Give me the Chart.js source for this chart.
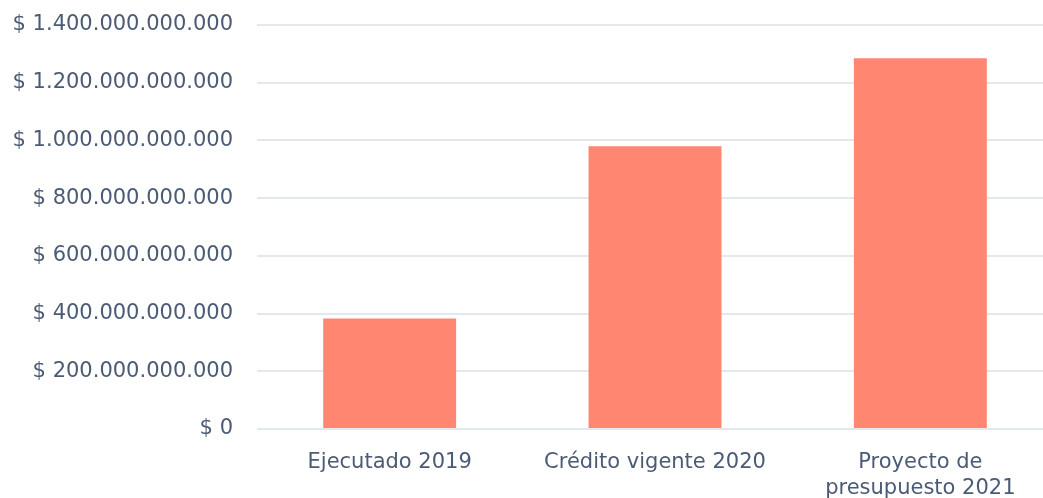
<!DOCTYPE html>
<html>
<head>
<meta charset="utf-8">
<script src="https://cdn.jsdelivr.net/npm/chart.js@4"></script>
<style>
    html, body { margin: 0; padding: 0; background: #fff; overflow: hidden; }
    #wrap { width: 1053px; height: 498px; }
</style>
</head>
<body>
<div id="wrap"><canvas id="chartBudget"></canvas></div>
<script>
// Presupuesto por año
const categories = ["Ejecutado 2019", "Crédito vigente 2020", ["Proyecto de", "presupuesto 2021"]];
const amounts = [383000000000, 980000000000, 1285000000000];
const yTicks = [0, 200000000000, 400000000000, 600000000000, 800000000000, 1000000000000, 1200000000000, 1400000000000];

const fmtPesos = (v) => "$ " + String(Math.round(v)).replace(/\B(?=(\d{3})+(?!\d))/g, ".");

const textColor = "#4b5b75";
const labelFont = { family: "DejaVu Sans", size: 21, lineHeight: 1.25 };

const config = {
    type: "bar",
    data: {
        labels: categories,
        datasets: [
            {
                label: "Presupuesto",
                data: amounts,
                backgroundColor: "#ff8670",
                borderWidth: 0,
                barPercentage: 0.501,
                categoryPercentage: 1,
            },
        ],
    },
    options: {
        responsive: true,
        maintainAspectRatio: false,
        animation: false,
        layout: { padding: 0 },
        plugins: {
            legend: { display: false },
            tooltip: { enabled: false },
        },
        scales: {
            x: {
                grid: { display: false },
                border: { display: false },
                ticks: {
                    color: textColor,
                    font: labelFont,
                    padding: 12,
                    maxRotation: 0,
                },
                afterFit: (axis) => {
                    axis.height = 69;
                    axis.paddingLeft = 0;
                    axis.paddingRight = 0;
                },
            },
            y: {
                min: 0,
                max: 1400000000000,
                afterBuildTicks: (axis) => {
                    axis.ticks = yTicks.map((v) => ({ value: v }));
                },
                grid: { color: "#e3e7ee", lineWidth: 2, drawTicks: false },
                border: { display: false },
                ticks: {
                    color: textColor,
                    font: labelFont,
                    padding: 24,
                    callback: (v) => fmtPesos(v),
                },
                afterFit: (axis) => {
                    axis.width = 257;
                    axis.paddingTop = 25;
                    axis.paddingBottom = 0;
                },
            },
        },
    },
};

new Chart(document.getElementById("chartBudget"), config);
</script>
</body>
</html>
